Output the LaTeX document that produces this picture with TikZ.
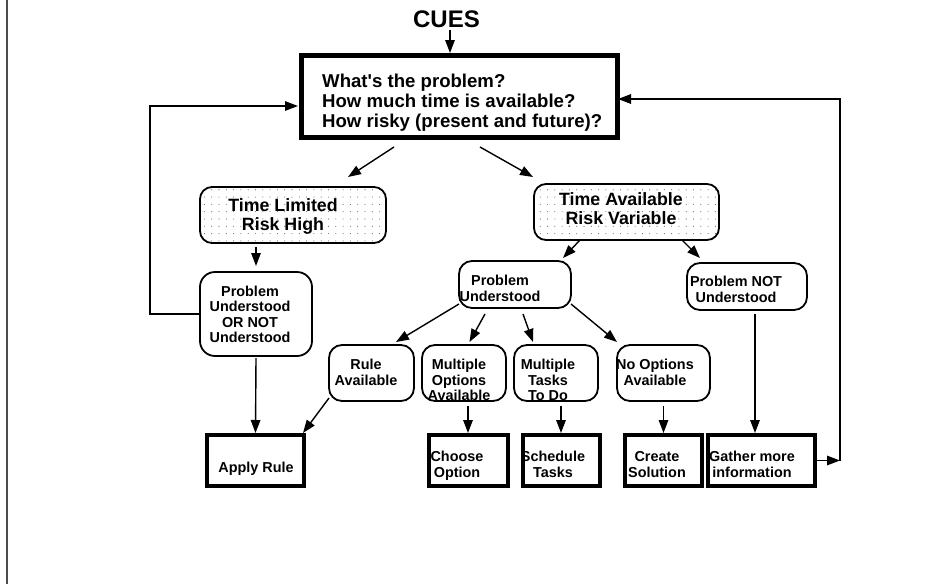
\documentclass[tikz,border=0pt]{standalone}
\usepackage{fontspec}
\setmainfont{Liberation Sans}
\usetikzlibrary{arrows.meta,patterns,calc}
\pgfdeclarepatternformonly{sparsedots}{\pgfqpoint{-1pt}{-1pt}}{\pgfqpoint{1pt}{1pt}}{\pgfqpoint{7.3pt}{7.3pt}}{\pgfpathcircle{\pgfqpoint{0pt}{0pt}}{0.55pt}\pgfusepath{fill}}
\begin{document}
\begin{tikzpicture}[x=1pt,y=-1pt,
  arr/.style={line width=1.4pt,-{Triangle[length=13pt,width=9.5pt]}},
  mainbox/.style={draw,line width=5pt,outer sep=0pt,inner sep=0pt},
  endbox/.style={draw,line width=4pt,outer sep=0pt,inner sep=0pt,minimum height=51pt},
  rbox/.style={draw,line width=1.8pt,rounded corners=13pt,outer sep=0pt,inner sep=0pt},
  shbox/.style={rbox,rounded corners=12pt,pattern=sparsedots,pattern color=black!60,minimum height=56pt},
  ttl/.style={inner sep=0pt,font=\bfseries\fontsize{24}{28}\selectfont},
  tmain/.style={inner sep=0pt,align=left,font=\bfseries\fontsize{18.6}{20}\selectfont},
  tsh/.style={inner sep=0pt,align=center,font=\bfseries\fontsize{17.8}{19}\selectfont},
  tsm/.style={inner sep=0pt,align=center,font=\bfseries\fontsize{14.4}{15.5}\selectfont},
]
\useasboundingbox (0,0) rectangle (951,584);
\draw[line width=1.3pt,black!70] (7,0) -- (7,584);

% boxes
\node[mainbox,minimum width=316pt,minimum height=82pt] (main) at (459,96) {};
\node[shbox,minimum width=186pt] (tl) at (293,215) {};
\node[shbox,minimum width=185pt] (ta) at (626.5,212) {};
\node[rbox,minimum width=112pt,minimum height=84pt,rounded corners=15pt] (puor) at (256,314) {};
\node[rbox,minimum width=112pt,minimum height=47pt] (pu) at (515,284.5) {};
\node[rbox,minimum width=120pt,minimum height=47pt] (pnu) at (747,286.5) {};
\node[rbox,minimum width=85pt,minimum height=56pt] (rule) at (371.5,373) {};
\node[rbox,minimum width=84pt,minimum height=56pt] (mo) at (464,373) {};
\node[rbox,minimum width=84pt,minimum height=56pt] (mt) at (556,373) {};
\node[rbox,minimum width=93pt,minimum height=56pt] (no) at (663.5,373) {};
\node[endbox,minimum width=97pt] (apply) at (255.5,460.5) {};
\node[endbox,minimum width=79pt] (choose) at (468.5,460.5) {};
\node[endbox,minimum width=77pt] (sched) at (561.5,460.5) {};
\node[endbox,minimum width=77pt] (create) at (663.5,460.5) {};
\node[endbox,minimum width=107pt] (gather) at (761.5,460.5) {};

% texts
\node[ttl,anchor=base] (cues) at (446.5,27) {CUES};
\node[tmain,anchor=west] (main-t) at (322,102.5) {What\textquotesingle s the problem?\\How much time is available?\\How risky (present and future)?};
\node[tsh] (tl-t) at (283,216.7) {Time Limited\\Risk High};
\node[tsh] (ta-t) at (621,208.9) {Time Available\\Risk Variable};
\node[tsm] (puor-t) at (250,314.5) {Problem\\Understood\\OR NOT\\Understood};
\node[tsm] (pu-t) at (500,288.5) {Problem\\Understood};
\node[tsm] (pnu-t) at (736,289.5) {Problem NOT\\Understood};
\node[tsm] (rule-t) at (366,372.5) {Rule\\Available};
\node[tsm] (mo-t) at (459,380) {Multiple\\Options\\Available};
\node[tsm] (mt-t) at (548,380) {Multiple\\Tasks\\To Do};
\node[tsm] (no-t) at (655,372.5) {No Options\\Available};
\node[tsm,anchor=base] (apply-t) at (256,472) {Apply Rule};
\node[tsm] (choose-t) at (457,465.9) {Choose\\Option};
\node[tsm] (sched-t) at (553,464.4) {Schedule\\Tasks};
\node[tsm] (create-t) at (657,464.4) {Create\\Solution};
\node[tsm] (gather-t) at (752,464.4) {Gather more\\information};

% connectors
\draw[arr] ($(cues.south)+(3.5,3)$) coordinate (c1) -- ($(c1 |- main.north)+(0,-2)$);
\draw[arr] ($(main.south)+(-65,10)$) -- ($(tl.north)+(55,-10)$);
\draw[arr] ($(main.south)+(21,10)$) -- ($(ta.north)+(-93.5,-7)$);
\draw[arr] ($(tl.south -| puor.north)+(0,4)$) -- ($(puor.north)+(0,-6)$);
\draw[arr] ($(puor.south)+(0,2)$) -- ($(apply.north)+(0,-2)$);
\coordinate (lloop) at (150,106);
\draw[arr] (puor.west) -| (lloop) -- ($(main.west)+(-3,10)$);
\draw[arr] ($(ta.south)+(-46.5,0)$) -- ($(pu.north)+(48,-3)$);
\draw[arr] ($(ta.south)+(55.5,0)$) -- ($(pnu.north)+(-47,-5)$);
\draw[arr] ($(pnu.south)+(8,4)$) coordinate (c2) -- ($(c2 |- gather.north)+(0,-2)$);
\draw[arr] ($(pu.south west)+(0,-4)$) -- ($(rule.north)+(24.5,-3)$);
\draw[arr] ($(pu.south)+(-30,6)$) -- ($(mo.north)+(5.5,-3)$);
\draw[arr] ($(pu.south)+(8,6)$) -- ($(mt.north)+(-23,-3)$);
\draw[arr] ($(pu.south east)+(0,-4)$) -- ($(no.north)+(-46.5,-3)$);
\draw[arr] ($(rule.south west)+(0,-3)$) -- ($(apply.north east)+(-1,-2)$);
\draw[arr] ($(mo.south)+(4,5)$) coordinate (c3) -- ($(c3 |- choose.north)+(0,-2)$);
\draw[arr] ($(mt.south)+(5,5)$) coordinate (c4) -- ($(c4 |- sched.north)+(0,-2)$);
\draw[arr] ($(no.south)+(0,5)$) coordinate (c5) -- ($(c5 |- create.north)+(0,-2)$);
\coordinate (rb) at (840,460.5);
\coordinate (rt) at (840,99);
\draw[arr] (gather.east) -- (rb);
\draw[arr] (rb) -- (rt) -- ($(main.east |- rt)+(1,0)$);
\end{tikzpicture}
\end{document}
